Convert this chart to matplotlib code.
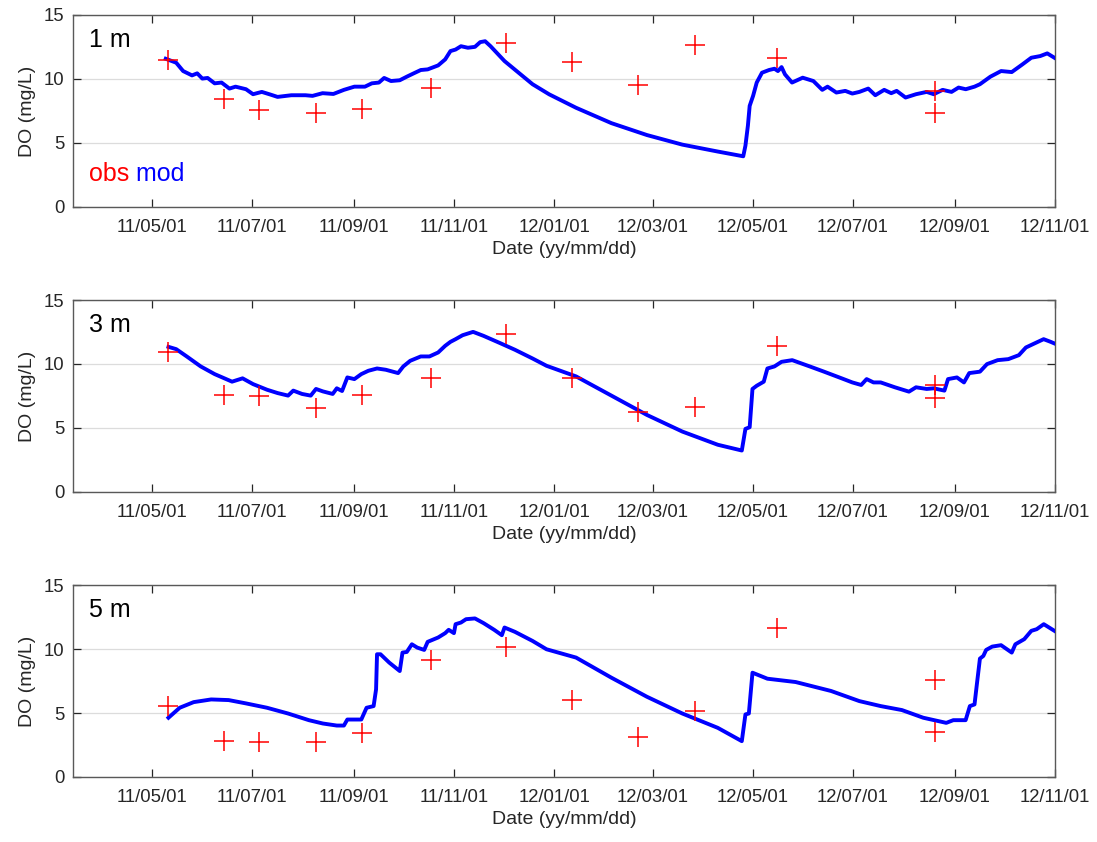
import numpy as np
import matplotlib
matplotlib.use('Agg')
import matplotlib.pyplot as plt
import matplotlib.dates as mdates

plt.rcParams['font.family'] = ['Liberation Sans', 'DejaVu Sans']

# observations (same sampling dates at every depth)
obs_dates = ['2011-05-11', '2011-06-14', '2011-07-05', '2011-08-09', '2011-09-06',
             '2011-10-18', '2011-12-03', '2012-01-12', '2012-02-21', '2012-03-27',
             '2012-05-16', '2012-08-20', '2012-08-20']
obs_1m = [11.45, 8.47, 7.56, 7.31, 7.69, 9.33, 12.82, 11.35, 9.53, 12.64, 11.66, 9.07, 7.38]
obs_3m = [10.9, 7.58, 7.53, 6.54, 7.58, 8.9, 12.33, 8.9, 6.28, 6.67, 11.42, 8.36, 7.32]
obs_5m = [5.54, 2.8, 2.74, 2.74, 3.4, 9.15, 10.19, 6.01, 3.14, 5.15, 11.68, 7.58, 3.5]

# model output, days since 2011-05-01
mod_day_1m = [8.5, 14.9, 19.1, 24.5, 27.7, 30.8, 34, 38.3, 42.5, 47.3, 51, 57.4, 61.7, 67,
              72.3, 76.6, 85, 93.6, 97.9, 104, 110.6, 117, 123.4, 129.8, 134, 138.3, 141.5,
              145.7, 151, 155.3, 159.5, 163.8, 168, 174.4, 178.7, 181.9, 185, 188.3, 192.5,
              196.8, 200, 203, 206.3, 214.8, 223.4, 231.9, 242, 258.4, 279.9, 301.5, 323.1,
              344.7, 360.2, 361.5, 363, 364.1, 366.2, 368.4, 371.6, 375.9, 379.2, 381.3,
              383.5, 385.6, 389.9, 396.4, 402.9, 408.3, 411.5, 416.9, 422.3, 426.6, 430.9,
              436.3, 440.6, 446, 450.3, 453.6, 459, 465.4, 471.9, 476.2, 481.6, 487, 491.3,
              495.7, 501, 504.3, 510.7, 517.2, 523.7, 530.2, 535.6, 541, 545.3, 550.7]
mod_1m = [11.58, 11.27, 10.62, 10.28, 10.44, 10.03, 10.08, 9.66, 9.72, 9.25, 9.4, 9.2, 8.81,
          8.99, 8.78, 8.6, 8.73, 8.73, 8.68, 8.89, 8.83, 9.15, 9.4, 9.4, 9.66, 9.72, 10.08,
          9.84, 9.9, 10.18, 10.44, 10.7, 10.75, 11.06, 11.53, 12.18, 12.3, 12.56, 12.44,
          12.51, 12.88, 12.95, 12.56, 11.4, 10.49, 9.59, 8.8, 7.75, 6.55, 5.62, 4.87, 4.33,
          3.96, 4.79, 6.35, 7.9, 8.68, 9.72, 10.49, 10.7, 10.8, 10.62, 10.93, 10.36, 9.72,
          10.1, 9.84, 9.15, 9.4, 8.94, 9.07, 8.86, 8.99, 9.25, 8.73, 9.15, 8.89, 9.07, 8.55,
          8.81, 8.99, 8.81, 9.15, 8.99, 9.33, 9.2, 9.4, 9.59, 10.18, 10.62, 10.54, 11.14,
          11.66, 11.79, 12.0, 11.58]

mod_day_3m = [10.2, 14.9, 21.3, 29.8, 38.3, 48.9, 55.3, 61.7, 70.2, 76.6, 83, 86.2, 91.5,
              96.8, 100, 104.2, 110.2, 112.7, 115.9, 119.1, 123.4, 127.6, 131.9, 137.2,
              142.5, 150, 153.2, 157.4, 163.8, 169.1, 174.4, 178.7, 181.9, 185, 189.3, 195.7,
              202, 212.7, 221.2, 231.9, 240.4, 258.4, 279.9, 301.5, 323.1, 344.7, 359.3,
              361.5, 364.1, 365.8, 368.4, 372.7, 374.9, 379.2, 383.5, 390, 400.7, 409.4,
              420.1, 426.6, 432, 435.3, 439.5, 443.9, 452.5, 461.1, 465.4, 471.9, 476.2,
              482.7, 484.9, 490.3, 494.6, 497.8, 504.3, 508.6, 515.1, 521.6, 528, 532.3,
              536.6, 543.1, 547.4, 550.7]
mod_3m = [11.34, 11.16, 10.59, 9.81, 9.21, 8.62, 8.88, 8.43, 7.99, 7.73, 7.53, 7.92, 7.66,
          7.53, 8.05, 7.86, 7.66, 8.1, 7.89, 8.95, 8.82, 9.21, 9.47, 9.65, 9.55, 9.29, 9.81,
          10.25, 10.59, 10.59, 10.9, 11.42, 11.73, 11.94, 12.25, 12.51, 12.2, 11.6, 11.11,
          10.43, 9.86, 9.03, 7.53, 6.02, 4.72, 3.69, 3.24, 4.93, 5.06, 8.05, 8.3, 8.62, 9.65,
          9.81, 10.17, 10.3, 9.81, 9.4, 8.88, 8.56, 8.36, 8.82, 8.56, 8.56, 8.18, 7.84, 8.18,
          8.05, 8.1, 7.92, 8.82, 8.95, 8.56, 9.29, 9.4, 9.99, 10.3, 10.38, 10.69, 11.29,
          11.55, 11.94, 11.73, 11.55]

mod_day_5m = [10.2, 17, 25.5, 36.2, 46.8, 57.4, 70.2, 83, 95.7, 104.2, 112.7, 117, 119.1,
              127.6, 130.8, 135.1, 136.6, 137.2, 139.3, 144.6, 151, 152.7, 155.3, 158.4,
              161.7, 165.9, 168, 174.4, 178.7, 180.8, 184, 185, 188.3, 191.4, 196.8, 202.1,
              208.5, 213.2, 214.8, 221.2, 231.9, 240.4, 258.4, 279.9, 301.5, 323.1, 344.7,
              359.3, 361.5, 363.6, 365.8, 374.9, 392.1, 413.7, 430.9, 443.9, 456.8, 469.8,
              483.8, 488.1, 495.6, 498.2, 501, 502.5, 504.3, 506.4, 508.1, 511.8, 517.2,
              523.7, 525.9, 531.3, 535.6, 538.9, 543.2, 550.7]
mod_5m = [4.63, 5.41, 5.85, 6.06, 6.01, 5.75, 5.41, 4.96, 4.44, 4.18, 4.02, 4.02, 4.49, 4.49,
          5.41, 5.54, 6.85, 9.59, 9.59, 8.94, 8.28, 9.72, 9.77, 10.37, 10.11, 9.93, 10.56,
          10.9, 11.24, 11.5, 11.24, 11.94, 12.07, 12.33, 12.39, 12.02, 11.5, 11.08, 11.68,
          11.34, 10.63, 9.98, 9.33, 7.76, 6.27, 4.96, 3.84, 2.8, 4.89, 4.96, 8.15, 7.68,
          7.42, 6.72, 5.93, 5.54, 5.23, 4.63, 4.23, 4.44, 4.44, 5.54, 5.67, 7.32, 9.25, 9.46,
          9.93, 10.19, 10.3, 9.72, 10.37, 10.77, 11.42, 11.55, 11.94, 11.34]

depth_labels = ['1 m', '3 m', '5 m']
tick_dates = ['2011-05-01', '2011-07-01', '2011-09-01', '2011-11-01', '2012-01-01',
              '2012-03-01', '2012-05-01', '2012-07-01', '2012-09-01', '2012-11-01']

t0 = np.datetime64('2011-05-01')
obs_t = np.array(obs_dates, dtype='datetime64[D]')
panels = [(mod_day_1m, mod_1m, obs_1m), (mod_day_3m, mod_3m, obs_3m), (mod_day_5m, mod_5m, obs_5m)]

fig = plt.figure(figsize=(10.97, 8.42), dpi=100)
axc = '#262626'
bottoms = [0.7542, 0.4157, 0.0772]
for i, (mday, mval, oval) in enumerate(panels):
    ax = fig.add_axes([0.0665, bottoms[i], 0.8952, 0.228])
    mt = t0 + (np.array(mday) * 24).astype('timedelta64[h]')
    ax.plot(mt, mval, color='#0000ff', lw=2.8, solid_joinstyle='round', zorder=3)
    ax.plot(obs_t, oval, '+', color='#ff0000', ms=15, mew=1.1, zorder=4)
    ax.set_xlim(np.datetime64('2011-03-14'), np.datetime64('2012-11-01'))
    ax.set_ylim(0, 15)
    ax.set_yticks([0, 5, 10, 15])
    ax.set_xticks(np.array(tick_dates, dtype='datetime64[D]'))
    ax.xaxis.set_major_formatter(mdates.DateFormatter('%y/%m/%d'))
    ax.grid(axis='y', color='#dcdcdc', lw=0.9)
    ax.set_axisbelow(True)
    ax.tick_params(direction='in', length=6, width=0.9, top=True, right=True,
                   labelsize=13.3, colors=axc, pad=9)
    ax.tick_params(axis='y', pad=6)
    for s in ax.spines.values():
        s.set_color('#595959')
        s.set_linewidth(1.0)
    ax.set_ylabel('DO (mg/L)', fontsize=14, color=axc, labelpad=6)
    ax.set_xlabel('Date (yy/mm/dd)', fontsize=14, color=axc, labelpad=3)
    ax.text(0.016, 0.87, depth_labels[i], transform=ax.transAxes, fontsize=18,
            color='black', va='center', ha='left')
    if i == 0:
        t = ax.text(0.016, 0.17, 'obs', transform=ax.transAxes, fontsize=18,
                    color='#ff0000', va='center', ha='left')
        ax.annotate(' mod', xycoords=t, xy=(1, 0), va='bottom', ha='left',
                    fontsize=18, color='#0000ff')

fig.savefig('out.png', dpi=100)
